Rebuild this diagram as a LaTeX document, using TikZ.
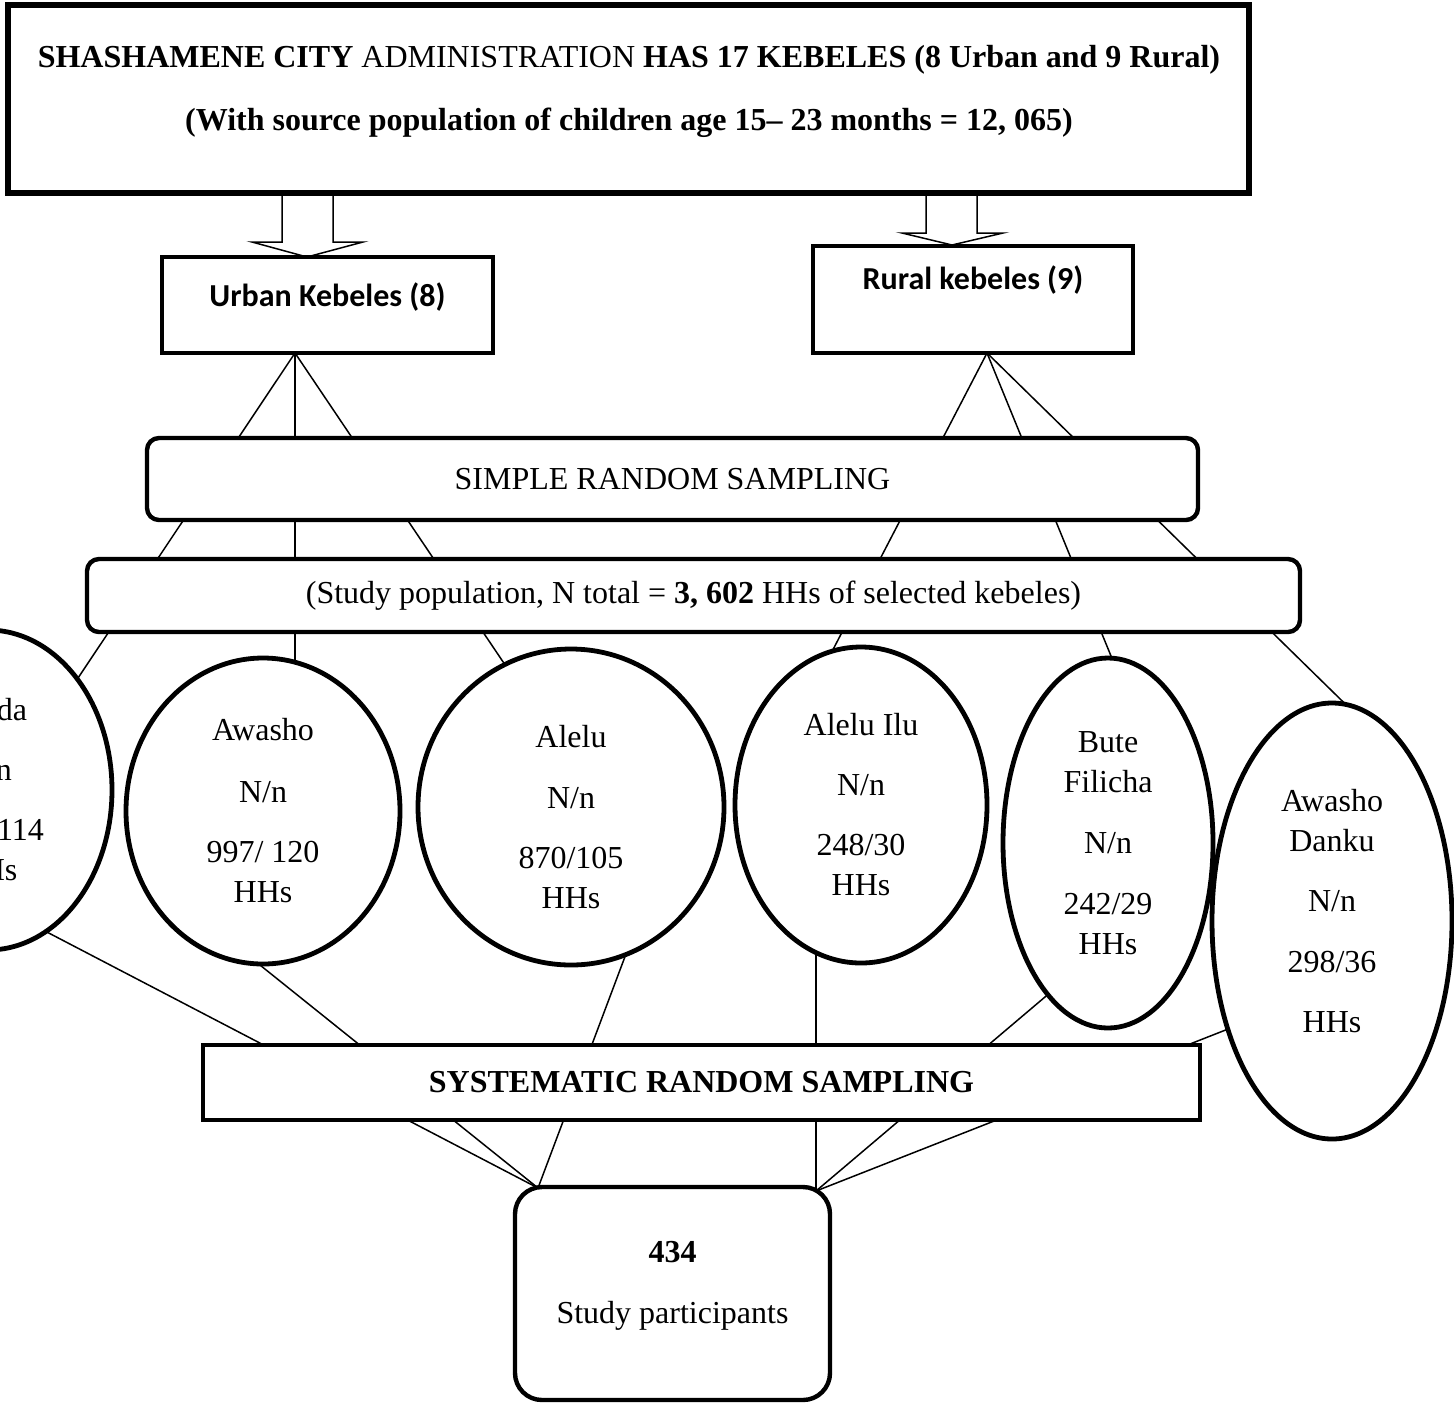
\documentclass[tikz,border=0pt]{standalone}
\usepackage{fontspec}
\setmainfont{Liberation Serif}
\newfontfamily\calibri{Carlito}
\usetikzlibrary{shapes.geometric}
\pgfdeclarelayer{bg}
\pgfsetlayers{bg,main}
\begin{document}
\begin{tikzpicture}[x=0.5pt,y=-0.5pt,
  every node/.style={font=\fontsize{16}{20}\selectfont},
  box/.style={draw, line width=2.2pt, fill=white, inner sep=0pt},
  rbox/.style={box, rounded corners=6pt},
  oval/.style={ellipse, draw, line width=2.4pt, fill=white, inner sep=0pt, align=center},
  conn/.style={line width=0.75pt},
  barrow/.style={draw, line width=0.75pt, fill=white, line join=miter},
  sanslabel/.style={font=\calibri\bfseries\fontsize{16}{20}\selectfont}
]
\useasboundingbox (0,0) rectangle (1454,1403);
\clip (0,0) rectangle (1454,1403);

% top box
\node[box, line width=2.6pt, minimum width=620.5pt, minimum height=94pt] (top) at (628.5,99) {};
\node[align=center] (toptext) at (629,91) {\textbf{SHASHAMENE CITY} ADMINISTRATION \textbf{HAS 17 KEBELES (8 Urban and 9 Rural)}\\[11.5pt]\textbf{(With source population of children age 15– 23 months = 12, 065)}};

% urban / rural
\node[box, minimum width=165.5pt, minimum height=48pt,
  label={[sanslabel, yshift=4pt]center:Urban Kebeles (8)}] (urban) at (327.5,305) {};
\node[box, minimum width=160pt, minimum height=53.5pt,
  label={[sanslabel, yshift=9.75pt]center:Rural kebeles (9)}] (rural) at (973,299.5) {};

% sampling boxes
\node[rbox, minimum width=525.5pt, minimum height=41pt] (srs) at (672.5,479) {SIMPLE RANDOM SAMPLING};
\node[rbox, minimum width=606.5pt, minimum height=36.5pt] (pop) at (693.5,595.5) {(Study population, N total = \textbf{3, 602} HHs of selected kebeles)};
\node[box, minimum width=498.5pt, minimum height=37.5pt] (sys) at (701.5,1082.5) {\textbf{SYSTEMATIC RANDOM SAMPLING}};
\node[box, rounded corners=13.5pt, minimum width=157.5pt, minimum height=106.5pt,
  label={[align=center, yshift=3.75pt]center:{\textbf{434}\\[10.5pt]Study participants}}] (fin) at (672.5,1293.5) {};

% kebele ellipses
\node[oval, minimum width=124pt, minimum height=160pt] (ada) at (-12,790) {Arada\\[10pt]N/n\\[10pt]947/ 114\\HHs};
\node[oval, minimum width=137pt, minimum height=153pt] (awasho) at (263,811) {Awasho\\[11pt]N/n\\[10pt]997/ 120\\HHs};
\node[oval, minimum width=153pt, minimum height=158pt] (alelu) at (571,807) {\rule{0pt}{21pt}Alelu\\[10.5pt]N/n\\[10pt]870/105\\HHs};
\node[oval, minimum width=126pt, minimum height=158pt] (aleluilu) at (861,805) {Alelu Ilu\\[10pt]N/n\\[10pt]248/30\\HHs};
\node[oval, minimum width=105pt, minimum height=185pt] (bute) at (1108,843) {Bute\\Filicha\\[10.5pt]N/n\\[10.5pt]242/29\\HHs};
\node[oval, minimum width=120pt, minimum height=218pt] (danku) at (1332,921) {Awasho\\Danku\\[10pt]N/n\\[10.5pt]298/36\\[10pt]HHs\rule[-10pt]{0pt}{10pt}};

% connector points
\coordinate (ua) at (295,353);
\coordinate (ra) at (987,353);
\coordinate (cl) at (538,1188);
\coordinate (cr) at (816,1191);
\coordinate (ada-in) at (60,705);
\coordinate (awasho-in) at (295,700);
\coordinate (alelu-in) at (520,687);
\coordinate (aleluilu-in) at (812,690);
\coordinate (bute-in) at (1129,700);
\coordinate (danku-in) at (1382,740);
\coordinate (ada-out) at (20,918);
\coordinate (awasho-out) at (240,949);
\coordinate (alelu-out) at (635,930);
\coordinate (aleluilu-out) at (816,930);
\coordinate (bute-out) at (1065,980);
\coordinate (danku-out) at (1251,1020);

\begin{pgfonlayer}{bg}
  % block arrows
  \draw[barrow] (282,193) -- (282,242) -- (252,242) -- (307,257) -- (363,242) -- (333,242) -- (333,193);
  \draw[barrow] (926,193) -- (926,233) -- (902,233) -- (952,245) -- (1003,233) -- (977,233) -- (977,193);
  % rays from urban/rural boxes
  \draw[conn] (ua) -- (ada-in);
  \draw[conn] (ua) -- (awasho-in);
  \draw[conn] (ua) -- (alelu-in);
  \draw[conn] (ra) -- (aleluilu-in);
  \draw[conn] (ra) -- (bute-in);
  \draw[conn] (ra) -- (danku-in);
  % rays to study participants
  \draw[conn] (ada-out) -- (cl);
  \draw[conn] (awasho-out) -- (cl);
  \draw[conn] (alelu-out) -- (cl);
  \draw[conn] (aleluilu-out) -- (cr);
  \draw[conn] (bute-out) -- (cr);
  \draw[conn] (danku-out) -- (cr);
\end{pgfonlayer}
\end{tikzpicture}
\end{document}
